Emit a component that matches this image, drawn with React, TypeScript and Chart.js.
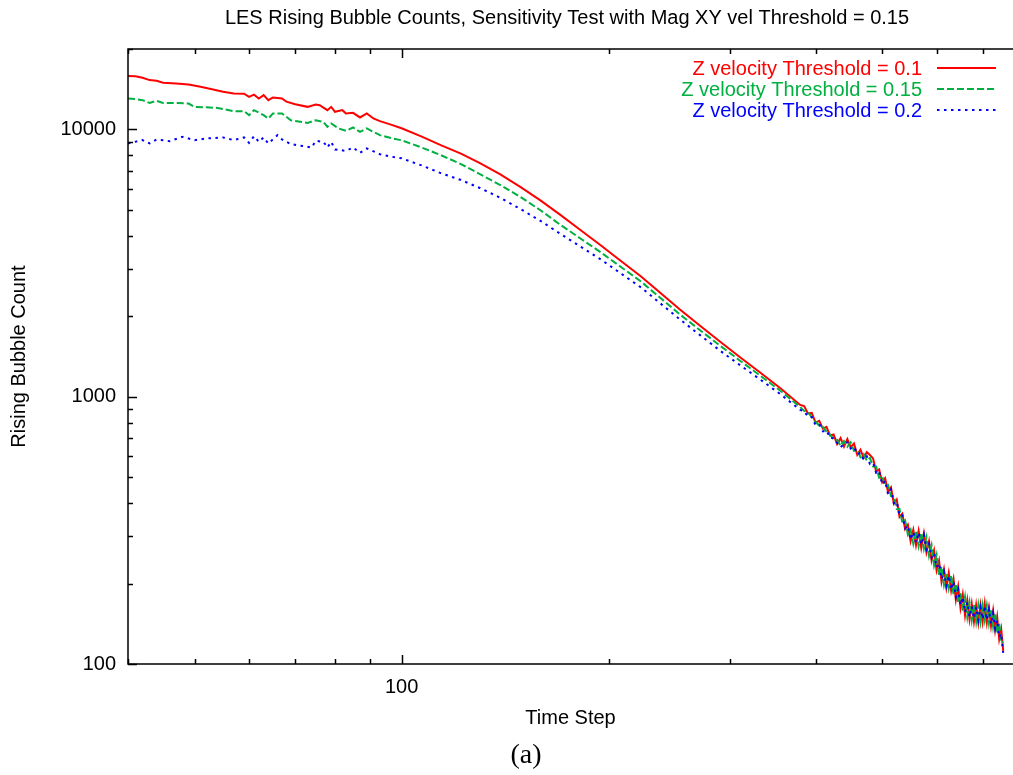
import React, { useEffect, useRef } from "react";
import { Chart, registerables } from "chart.js";

Chart.register(...registerables);

const chartTitle = "LES Rising Bubble Counts, Sensitivity Test with Mag XY vel Threshold = 0.15";
const xAxisTitle = "Time Step";
const yAxisTitle = "Rising Bubble Count";
const caption = "(a)";

const seriesLabels = [
  "Z velocity Threshold = 0.1",
  "Z velocity Threshold = 0.15",
  "Z velocity Threshold = 0.2",
];
const seriesColors = ["#ff0000", "#00b040", "#0000ff"];

const xTickValues = [40, 50, 60, 70, 80, 90, 100, 200, 300, 400, 500, 600, 700];
const xLabeledTicks = [100];
const yTickValues = [
  100, 200, 300, 400, 500, 600, 700, 800, 900,
  1000, 2000, 3000, 4000, 5000, 6000, 7000, 8000, 9000,
  10000, 20000,
];
const yLabeledTicks = [100, 1000, 10000];

const midSteps = [100, 107, 114, 122, 130, 139, 149, 159, 170, 182, 195, 208, 223, 238, 254, 272, 291, 311, 333, 356];
const endSteps = [
  380, 385, 390, 395, 400, 405, 410, 415, 420, 425, 430, 435, 440, 445, 450, 455, 460, 465, 470, 475,
  480, 485, 490, 495, 500, 505, 510, 515, 520, 525, 530, 535, 540, 545, 550, 555, 560, 565, 570, 575,
  580, 585, 590, 595, 600, 605, 610, 615, 620, 625, 630, 635, 640, 645, 650, 655, 660, 665, 670, 675,
  680, 685, 690, 695, 700, 705, 710, 715, 720, 725, 730, 735, 740, 745, 750,
];

const redEarlySteps = [40, 41, 42, 43, 44, 45, 47, 49, 51, 53, 55, 57, 59, 60, 61, 62, 63, 64, 65, 67, 68, 70, 73, 75, 76, 78, 79, 80, 82, 83, 85, 87, 89, 91, 93, 96];
const redEarly = [15860, 15800, 15600, 15300, 15200, 14950, 14850, 14730, 14450, 14150, 13850, 13630, 13600, 13250, 13500, 13060, 13440, 12870, 13170, 13060, 12700, 12430, 12150, 12400, 12320, 11810, 12150, 11640, 11810, 11480, 11540, 11090, 11480, 10990, 10740, 10470];
const redMid = [10100, 9400, 8736, 8120, 7482, 6806, 6085, 5442, 4802, 4204, 3678, 3232, 2817, 2443, 2121, 1840, 1603, 1403, 1227, 1074];
const redEnd = [
  932, 922, 866, 870, 800, 812, 760, 772, 716, 722, 665, 700, 650, 695, 648, 668, 606, 634, 590, 620,
  605, 588, 525, 535, 478, 496, 440, 458, 398, 412, 355, 365, 320, 332, 288, 318, 278, 315, 272, 308,
  262, 288, 244, 266, 224, 244, 203, 226, 193, 219, 188, 208, 174, 195, 162, 182, 152, 173, 147, 168,
  144, 166, 143, 166, 144, 168, 143, 162, 139, 158, 134, 150, 124, 135, 112,
];

const greenEarlySteps = [40, 41, 42, 43, 44, 45, 47, 49, 50, 52, 54, 57, 59, 60, 61, 63, 64, 65, 67, 69, 73, 75, 77, 78, 79, 81, 83, 85, 87, 89, 93, 97];
const greenEarly = [13060, 13000, 12870, 12570, 12800, 12570, 12550, 12500, 12150, 12100, 12040, 11710, 11710, 11310, 11810, 11310, 10990, 11480, 11480, 10830, 10580, 10830, 10670, 10230, 10530, 10090, 9880, 10170, 9800, 10090, 9520, 9254];
const greenMid = [9110, 8554, 8020, 7422, 6809, 6207, 5586, 4996, 4408, 3910, 3465, 3070, 2699, 2340, 2032, 1770, 1548, 1361, 1195, 1050];
const greenEnd = [
  915, 885, 876, 838, 806, 780, 770, 740, 722, 692, 690, 655, 682, 650, 675, 628, 632, 595, 610, 576,
  590, 548, 548, 498, 505, 462, 468, 425, 425, 380, 380, 338, 345, 305, 318, 282, 316, 276, 310, 270,
  298, 254, 278, 234, 256, 214, 232, 198, 220, 192, 215, 182, 200, 170, 186, 158, 178, 150, 170, 146,
  167, 144, 166, 144, 166, 146, 165, 142, 160, 138, 155, 130, 142, 120, 121,
];

const blueEarlySteps = [40, 42, 43, 44, 46, 48, 50, 52, 55, 57, 59, 60, 61, 62, 63, 64, 66, 67, 69, 72, 74, 75, 77, 78, 79, 80, 83, 85, 87, 89, 93, 97];
const blueEarly = [8866, 9121, 8866, 9175, 9043, 9384, 9121, 9254, 9337, 9121, 9337, 8912, 9440, 8987, 9337, 8866, 9520, 9175, 8815, 8663, 8563, 9066, 8987, 8563, 8987, 8417, 8317, 8563, 8176, 8490, 8082, 7896];
const blueMid = [7800, 7332, 6866, 6472, 6038, 5560, 5032, 4560, 4077, 3649, 3259, 2902, 2563, 2233, 1947, 1696, 1483, 1310, 1156, 1020];
const blueEnd = [
  893, 884, 842, 840, 784, 790, 742, 748, 702, 700, 672, 648, 664, 676, 640, 650, 610, 616, 580, 598,
  560, 566, 520, 528, 470, 485, 432, 450, 400, 405, 358, 360, 322, 330, 292, 312, 285, 310, 280, 305,
  268, 282, 250, 260, 230, 238, 208, 222, 196, 214, 190, 204, 178, 190, 166, 178, 156, 170, 150, 164,
  148, 163, 146, 163, 147, 165, 146, 160, 141, 155, 136, 146, 126, 130, 110,
];

const FONT = "'Liberation Sans', Arial, Helvetica, sans-serif";

function toPoints(steps: number[], values: number[]) {
  return steps.map((s, i) => ({ x: s, y: values[i] }));
}

const decorPlugin = {
  id: "decor",
  afterDraw(chart: any) {
    const { ctx, chartArea: a, scales } = chart;
    const xs = scales.x;
    const ys = scales.y;
    ctx.save();
    ctx.strokeStyle = "#000";
    ctx.lineWidth = 1.5;
    ctx.beginPath();
    ctx.moveTo(a.right + 20, a.top);
    ctx.lineTo(a.left, a.top);
    ctx.lineTo(a.left, a.bottom);
    ctx.lineTo(a.right + 20, a.bottom);
    ctx.stroke();
    ctx.beginPath();
    for (const v of xTickValues) {
      const px = Math.round(xs.getPixelForValue(v)) + 0.5;
      const len = xLabeledTicks.includes(v) ? 9 : 5;
      ctx.moveTo(px, a.bottom);
      ctx.lineTo(px, a.bottom - len);
      ctx.moveTo(px, a.top);
      ctx.lineTo(px, a.top + len);
    }
    for (const v of yTickValues) {
      const py = Math.round(ys.getPixelForValue(v)) + 0.5;
      const len = yLabeledTicks.includes(v) ? 9 : 5;
      ctx.moveTo(a.left, py);
      ctx.lineTo(a.left + len, py);
    }
    ctx.stroke();

    // title
    ctx.fillStyle = "#000";
    ctx.font = `20px ${FONT}`;
    ctx.textAlign = "center";
    ctx.textBaseline = "middle";
    ctx.fillText(chartTitle, 567, 18);

    // legend
    chart.data.datasets.forEach((ds: any, i: number) => {
      const y = 68 + i * 21;
      ctx.font = `20px ${FONT}`;
      ctx.textAlign = "right";
      ctx.textBaseline = "middle";
      ctx.fillStyle = ds.borderColor;
      ctx.fillText(ds.label, 922, y + 1);
      ctx.beginPath();
      ctx.strokeStyle = ds.borderColor;
      ctx.lineWidth = ds.borderWidth;
      ctx.setLineDash(ds.borderDash || []);
      ctx.moveTo(937, y);
      ctx.lineTo(996, y);
      ctx.stroke();
      ctx.setLineDash([]);
    });

    // caption
    ctx.fillStyle = "#000";
    ctx.font = `28px 'Liberation Serif', 'DejaVu Serif', serif`;
    ctx.textAlign = "center";
    ctx.textBaseline = "middle";
    ctx.fillText(caption, 526, 756);
    ctx.restore();
  },
};

export default function App() {
  const canvasRef = useRef<HTMLCanvasElement | null>(null);

  useEffect(() => {
    const canvas = canvasRef.current;
    if (!canvas) return;
    const redData = [
      ...toPoints(redEarlySteps, redEarly),
      ...toPoints(midSteps, redMid),
      ...toPoints(endSteps, redEnd),
    ];
    const greenData = [
      ...toPoints(greenEarlySteps, greenEarly),
      ...toPoints(midSteps, greenMid),
      ...toPoints(endSteps, greenEnd),
    ];
    const blueData = [
      ...toPoints(blueEarlySteps, blueEarly),
      ...toPoints(midSteps, blueMid),
      ...toPoints(endSteps, blueEnd),
    ];

    const chart = new Chart(canvas, {
      type: "line",
      data: {
        datasets: [
          {
            label: seriesLabels[0],
            data: redData,
            borderColor: seriesColors[0],
            backgroundColor: seriesColors[0],
            borderWidth: 2,
            pointRadius: 0,
            tension: 0,
            order: 3,
          },
          {
            label: seriesLabels[1],
            data: greenData,
            borderColor: seriesColors[1],
            backgroundColor: seriesColors[1],
            borderWidth: 2,
            borderDash: [7, 3],
            pointRadius: 0,
            tension: 0,
            order: 2,
          },
          {
            label: seriesLabels[2],
            data: blueData,
            borderColor: seriesColors[2],
            backgroundColor: seriesColors[2],
            borderWidth: 2,
            borderDash: [2.5, 4.5],
            pointRadius: 0,
            tension: 0,
            order: 1,
          },
        ],
      },
      options: {
        responsive: false,
        animation: false,
        devicePixelRatio: 1,
        layout: { padding: { top: 49, left: 0, right: 0, bottom: 0 } },
        plugins: {
          legend: { display: false },
          title: { display: false },
          tooltip: { enabled: false },
        },
        scales: {
          x: {
            type: "logarithmic",
            position: "bottom",
            min: 40,
            max: 775,
            grid: { display: false, drawTicks: false },
            border: { display: false },
            afterBuildTicks: (scale: any) => {
              scale.ticks = xTickValues.map((v) => ({ value: v }));
            },
            afterFit: (scale: any) => {
              scale.height = 111;
            },
            ticks: {
              autoSkip: false,
              maxRotation: 0,
              minRotation: 0,
              padding: 11,
              color: "#000",
              font: { family: FONT, size: 20 },
              callback: (value: any) => (xLabeledTicks.includes(Number(value)) ? String(value) : ""),
            },
            title: {
              display: true,
              text: xAxisTitle,
              color: "#000",
              font: { family: FONT, size: 20 },
              padding: { top: 0, bottom: 45 },
            },
          },
          y: {
            type: "logarithmic",
            position: "left",
            min: 100,
            max: 20000,
            grid: { display: false, drawTicks: false },
            border: { display: false },
            afterBuildTicks: (scale: any) => {
              scale.ticks = yTickValues.map((v) => ({ value: v }));
            },
            afterFit: (scale: any) => {
              scale.width = 128;
            },
            ticks: {
              autoSkip: false,
              padding: 12,
              color: "#000",
              font: { family: FONT, size: 20 },
              callback: (value: any) => (yLabeledTicks.includes(Number(value)) ? String(value) : ""),
            },
            title: {
              display: true,
              text: yAxisTitle,
              color: "#000",
              font: { family: FONT, size: 20 },
              padding: { top: 7, bottom: 0 },
            },
          },
        },
      },
      plugins: [decorPlugin],
    } as any);

    return () => {
      chart.destroy();
    };
  }, []);

  return (
    <div style={{ position: "absolute", left: 0, top: 0, width: 1013, height: 775, background: "#fff" }}>
      <canvas ref={canvasRef} width={1013} height={775} style={{ display: "block" }} />
    </div>
  );
}
